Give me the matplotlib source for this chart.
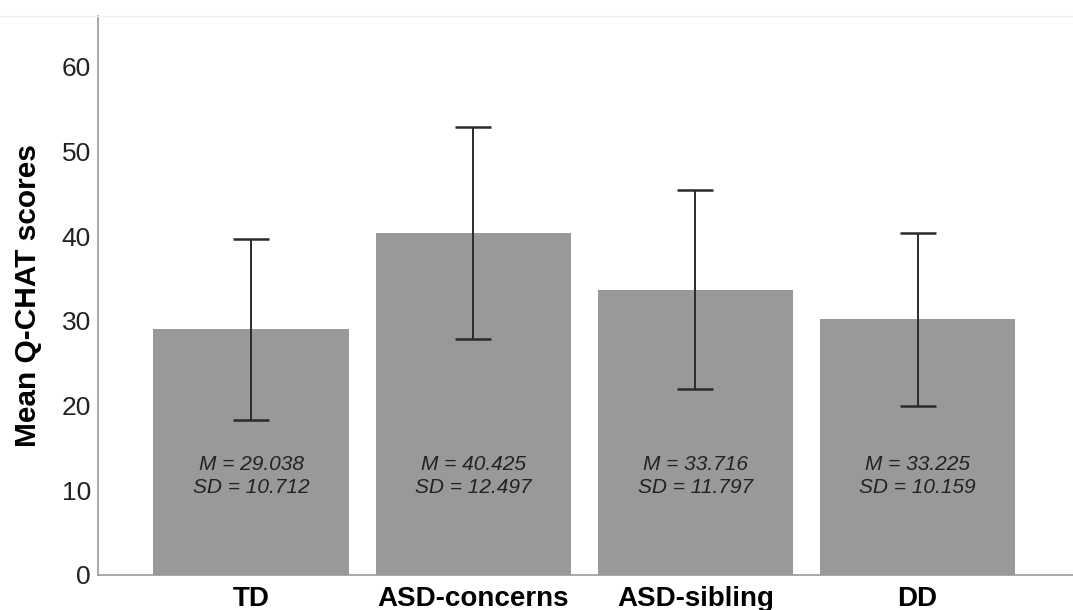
import matplotlib.pyplot as plt
from matplotlib.lines import Line2D
import numpy as np

plt.rcParams['font.family'] = ['Liberation Sans', 'DejaVu Sans']

# data
groups = ['TD', 'ASD-concerns', 'ASD-sibling', 'DD']
bar_means = [29.0, 40.4, 33.7, 30.2]
bar_sd = [10.7, 12.5, 11.8, 10.2]
label_m = ['29.038', '40.425', '33.716', '33.225']
label_sd = ['10.712', '12.497', '11.797', '10.159']

x = np.arange(len(groups))
fig = plt.figure(figsize=(10.73, 6.10), dpi=100)
ax = fig.add_axes([0.0913, 0.0574, 0.9087, 0.9164])

ax.bar(x, bar_means, width=0.88, color='#999999', zorder=1)
ax.errorbar(x, bar_means, yerr=bar_sd, fmt='none', ecolor='#2a2a2a',
            elinewidth=1.4, capsize=13, capthick=1.8, zorder=2)

for i in range(len(groups)):
    ax.text(x[i], 11.7, f'M = {label_m[i]}\nSD = {label_sd[i]}',
            ha='center', va='center', fontsize=15, style='italic',
            color='#222222', linespacing=1.25)

ax.set_xlim(-0.69, 3.70)
ax.set_ylim(0, 66)
ax.set_yticks([0, 10, 20, 30, 40, 50, 60])
ax.set_xticks(x)
ax.set_xticklabels(groups, fontsize=20, fontweight='bold')
ax.tick_params(axis='y', labelsize=19, length=0, pad=5, colors='#222222')
ax.tick_params(axis='x', length=0, pad=8)
ax.set_ylabel('Mean Q-CHAT scores', fontsize=21.5, fontweight='bold', labelpad=14)

for s in ['left', 'bottom']:
    ax.spines[s].set_color('#999999')
    ax.spines[s].set_linewidth(1.2)
ax.spines['right'].set_visible(False)
ax.spines['top'].set_visible(False)

# faint frame line across the top of the figure
fig.add_artist(Line2D([0, 1], [0.9738, 0.9738], transform=fig.transFigure,
                      color='#f0f0f0', lw=1))

fig.savefig('out.png', dpi=100)
